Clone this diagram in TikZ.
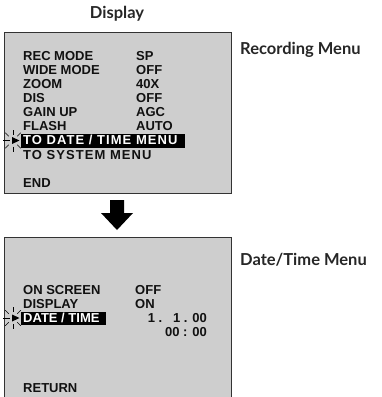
\documentclass[tikz,border=0pt]{standalone}
\usepackage{fontspec}
\usetikzlibrary{calc}
\setmainfont{Liberation Sans}
\newfontfamily\titlefont{Lato}
\definecolor{scr}{HTML}{CECECE}
\definecolor{ink}{HTML}{111111}
\begin{document}
\begin{tikzpicture}[x=1pt,y=-1pt,
  menu/.style={font=\bfseries\fontsize{13}{13}\selectfont, anchor=base west, inner sep=0pt, text=ink},
  val/.style={menu},
  wide/.style={font=\bfseries\fontsize{13}{13}\selectfont\addfontfeature{LetterSpace=8}, anchor=base west, inner sep=0pt},
  ttl/.style={font=\titlefont\bfseries\fontsize{16.5}{16.5}\selectfont, text=black!85, inner sep=0pt},
  screen/.style={fill=scr, draw=black!80, line width=0.8pt},
  hl/.style={fill=black},
  ray/.style={draw=black, line width=0.5pt}]
\useasboundingbox (0,0) rectangle (381,397);

% titles
\node[ttl] (disp) at (117,14) {Display};
\node[ttl, anchor=west] (rec) at (240,50) {Recording Menu};
\node[ttl, anchor=west] (dtm) at (240,260) {Date/Time Menu};

% screen 1
\draw[screen] (4,32) rectangle (231,193);
\node[menu] (r1) at (23,60) {REC MODE};
\node[menu] (r2) at (23,74) {WIDE MODE};
\node[menu] (r3) at (23,88) {ZOOM};
\node[menu] (r4) at (23,102) {DIS};
\node[menu] (r5) at (23,116) {GAIN UP};
\node[menu] (r6) at (23,130) {FLASH};
\node[val] (v1) at (136,60) {SP};
\node[val] (v2) at (136,74) {OFF};
\node[val] (v3) at (136,88) {40X};
\node[val] (v4) at (136,102) {OFF};
\node[val] (v5) at (136,116) {AGC};
\node[val] (v6) at (136,130) {AUTO};
\fill[hl] (21,134) rectangle (185,147.5);
\node[wide, text=white] (r7) at (23,144.5) {TO DATE / TIME MENU};
\node[wide, text=ink] (r8) at (23,159) {TO SYSTEM MENU};
\node[menu] (r9) at (23,187) {END};

% pointer 1
\coordinate (p1) at (13,140.5);
\fill (12,137) -- (19.5,140.5) -- (12,144) -- cycle;
\draw[ray] (3,140.5) -- (10,140.5);
\foreach \a in {90,135,225,270,45,315}
  \draw[ray] ($(p1)+(\a:6)$) -- ($(p1)+(\a:11)$);

% block arrow
\fill[black] (110,200) -- (124,200) -- (124,213) -- (133,213) -- (117,230) -- (101,213) -- (110,213) -- cycle;

% screen 2
\fill[scr] (4,237) rectangle (231,398);
\draw[black!80, line width=0.8pt] (4,398) -- (4,237) -- (231,237) -- (231,398);
\node[menu] (s1) at (23,294.5) {ON SCREEN};
\node[menu] (s2) at (23,308.5) {DISPLAY};
\fill[hl] (21,311.5) rectangle (106,325);
\node[menu, text=white] (s3) at (23,322.5) {DATE / TIME};
\node[val] (w1) at (135,294.5) {OFF};
\node[val] (w2) at (135,308.5) {ON};
\node[val, anchor=base east] (w3) at (207,322.5) {1 .\ \ \ 1 . 00};
\node[val, anchor=base east] (w4) at (207,336) {00 : 00};
\node[menu] (s4) at (23,392) {RETURN};

% pointer 2
\coordinate (p2) at (13,318);
\fill (12,314.5) -- (19.5,318) -- (12,321.5) -- cycle;
\draw[ray] (3,318) -- (10,318);
\foreach \a in {90,135,225,270,45,315}
  \draw[ray] ($(p2)+(\a:6)$) -- ($(p2)+(\a:11)$);
\end{tikzpicture}
\end{document}
